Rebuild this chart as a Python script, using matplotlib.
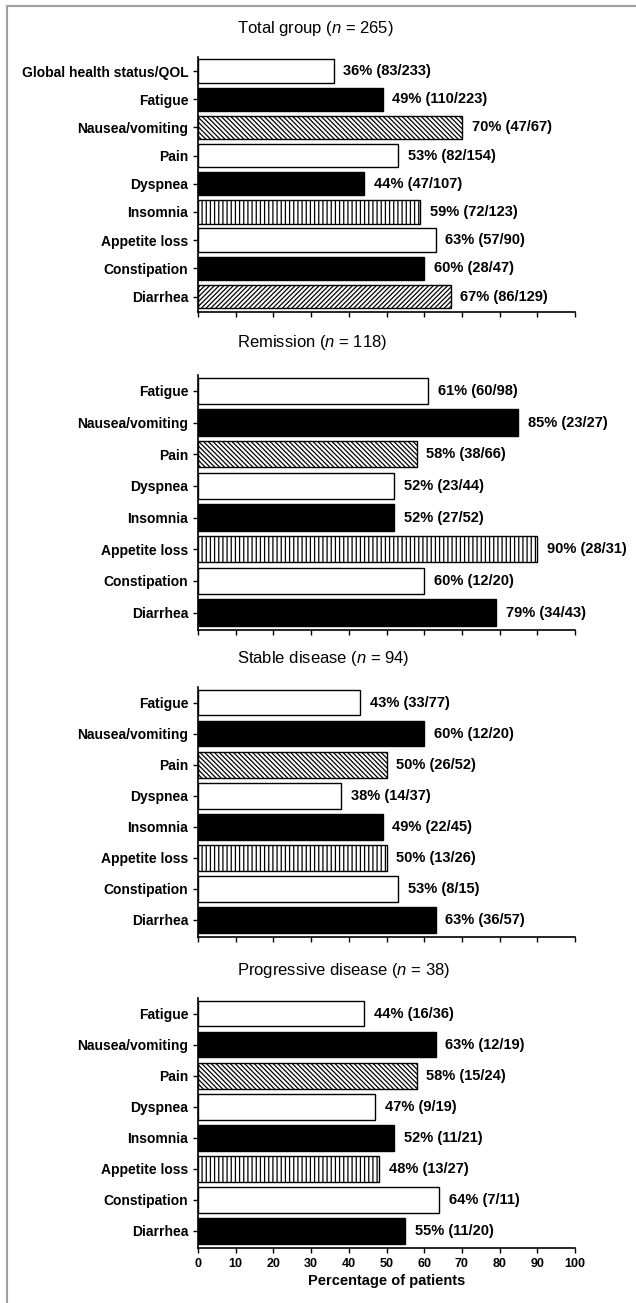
import matplotlib
matplotlib.use('Agg')
import matplotlib.pyplot as plt
from matplotlib.lines import Line2D

plt.rcParams['font.family'] = ['Liberation Sans', 'DejaVu Sans']
plt.rcParams['mathtext.fontset'] = 'custom'
plt.rcParams['mathtext.it'] = 'Liberation Sans:italic'
plt.rcParams['mathtext.rm'] = 'Liberation Sans'
plt.rcParams['hatch.linewidth'] = 0.9

# Symptom scales per group
items_total = ['Global health status/QOL', 'Fatigue', 'Nausea/vomiting', 'Pain',
               'Dyspnea', 'Insomnia', 'Appetite loss', 'Constipation', 'Diarrhea']
items = ['Fatigue', 'Nausea/vomiting', 'Pain', 'Dyspnea', 'Insomnia',
         'Appetite loss', 'Constipation', 'Diarrhea']

# Percent of patients, with numerator / denominator
pct_total = [36, 49, 70, 53, 44, 59, 63, 60, 67]
num_total = [83, 110, 47, 82, 47, 72, 57, 28, 86]
den_total = [233, 223, 67, 154, 107, 123, 90, 47, 129]

pct_remission = [61, 85, 58, 52, 52, 90, 60, 79]
num_remission = [60, 23, 38, 23, 27, 28, 12, 34]
den_remission = [98, 27, 66, 44, 52, 31, 20, 43]

pct_stable = [43, 60, 50, 38, 49, 50, 53, 63]
num_stable = [33, 12, 26, 14, 22, 13, 8, 36]
den_stable = [77, 20, 52, 37, 45, 26, 15, 57]

pct_progressive = [44, 63, 58, 47, 52, 48, 64, 55]
num_progressive = [16, 12, 15, 9, 11, 13, 7, 11]
den_progressive = [36, 19, 24, 19, 21, 27, 11, 20]

group_titles = [('Total group', 265), ('Remission', 118),
                ('Stable disease', 94), ('Progressive disease', 38)]

# fill styles: (facecolor, hatch)
style_total = [('white', None), ('black', None), ('white', '\\' * 7),
               ('white', None), ('black', None), ('white', '||||'),
               ('white', None), ('black', None), ('white', '/' * 7)]
style_sub = [('white', None), ('black', None), ('white', '\\' * 7),
             ('white', None), ('black', None), ('white', '||||'),
             ('white', None), ('black', None)]

panels = [
    (items_total, pct_total, num_total, den_total, style_total),
    (items, pct_remission, num_remission, den_remission, style_sub),
    (items, pct_stable, num_stable, den_stable, style_sub),
    (items, pct_progressive, num_progressive, den_progressive, style_sub),
]

W, H = 636, 1303
fig = plt.figure(figsize=(W / 100, H / 100), dpi=100)

# axes extents in pixels (top, bottom) and title rows
ax_px = [(57, 312), (375, 630), (687, 937), (998, 1248)]
title_px = [29, 343, 659, 971]
x0_px, x1_px = 198, 575

for i, (labels, pct, num, den, style) in enumerate(panels):
    top, bot = ax_px[i]
    ax = fig.add_axes([x0_px / W, 1 - bot / H, (x1_px - x0_px) / W, (bot - top) / H])
    n = len(labels)
    ypos = list(range(n))
    for y, p, (fc, hatch) in zip(ypos, pct, style):
        ax.barh(y, p, height=0.83, color=fc, edgecolor='black',
                linewidth=1.0, hatch=hatch)
    for y, p, a, b in zip(ypos, pct, num, den):
        ax.annotate(f'{p}% ({a}/{b})', (p, y), xytext=(7, 0),
                    textcoords='offset points', va='center', ha='left',
                    fontsize=10.5, fontweight='bold')
    ax.set_xlim(0, 100)
    ax.set_ylim(n - 0.45, -0.5)
    ax.set_yticks(ypos)
    ax.set_yticklabels(labels, fontsize=10, fontweight='bold')
    ax.set_xticks(range(0, 101, 10))
    ax.spines['top'].set_visible(False)
    ax.spines['right'].set_visible(False)
    ax.spines['left'].set_linewidth(1.2)
    ax.spines['bottom'].set_linewidth(1.2)
    ax.tick_params(axis='both', direction='out', length=3.5, width=1.0)
    if i == len(panels) - 1:
        ax.set_xticklabels([str(t) for t in range(0, 101, 10)],
                           fontsize=9, fontweight='bold')
        ax.set_xlabel('Percentage of patients', fontsize=10.5,
                      fontweight='bold', labelpad=3)
    else:
        ax.set_xticklabels([])

    name, count = group_titles[i]
    fig.text(237 / W, 1 - title_px[i] / H, f'{name} ($\\mathit{{n}}$ = {count})',
             fontsize=12, ha='left', va='center')

# thin grey frame on the top and left
fig.add_artist(Line2D([6.5 / W, 1], [1 - 5.5 / H, 1 - 5.5 / H],
                      color='#a0a0a0', linewidth=1.5))
fig.add_artist(Line2D([6.5 / W, 6.5 / W], [0, 1 - 5.5 / H],
                      color='#a0a0a0', linewidth=1.5))

fig.savefig('out.png', dpi=100)
